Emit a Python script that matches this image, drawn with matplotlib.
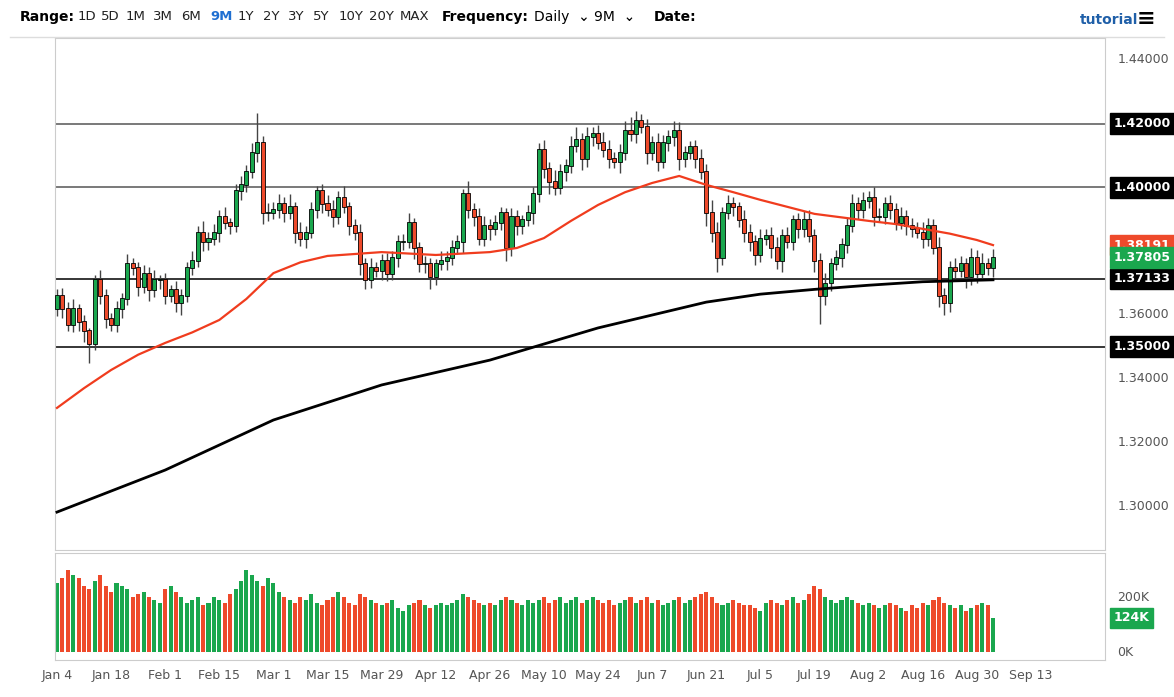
import matplotlib.pyplot as plt
import numpy as np
import pandas as pd

# daily closes, Jan 4 - Sep 2 2021 (business days)
closes = [
    1.366, 1.362, 1.357, 1.362, 1.358, 1.355, 1.351, 1.371, 1.366, 1.359, 1.357, 1.362, 1.365, 1.376, 1.375, 1.369, 1.373, 1.368, 1.371, 1.371,
    1.366, 1.368, 1.364, 1.366, 1.375, 1.377, 1.386, 1.383, 1.384, 1.386, 1.391, 1.389, 1.388, 1.399, 1.401, 1.405, 1.411, 1.414, 1.392, 1.392,
    1.393, 1.395, 1.392, 1.394, 1.386, 1.384, 1.386, 1.393, 1.399, 1.395, 1.393, 1.391, 1.397, 1.394, 1.388, 1.386, 1.376, 1.371, 1.375, 1.374, 1.377, 1.373, 1.378,
    1.383, 1.383, 1.389, 1.381, 1.376, 1.376, 1.372, 1.376, 1.377, 1.378, 1.381, 1.383, 1.398, 1.393, 1.391, 1.384, 1.388, 1.387, 1.389, 1.392, 1.381, 1.391,
    1.388, 1.390, 1.392, 1.398, 1.412, 1.406, 1.402, 1.400, 1.405, 1.407, 1.413, 1.415, 1.409, 1.416, 1.417, 1.414, 1.412, 1.409, 1.408, 1.411, 1.418,
    1.417, 1.421, 1.419, 1.411, 1.414, 1.408, 1.414, 1.416, 1.418, 1.409, 1.411, 1.413, 1.409, 1.405, 1.392, 1.386, 1.378, 1.392, 1.395, 1.394, 1.390, 1.386,
    1.383, 1.379, 1.384, 1.385, 1.381, 1.377, 1.385, 1.383, 1.390, 1.387, 1.390, 1.385, 1.377, 1.366, 1.370, 1.376, 1.378, 1.382, 1.388, 1.395, 1.393, 1.396,
    1.397, 1.391, 1.391, 1.395, 1.393, 1.389, 1.391, 1.388, 1.387, 1.386, 1.384, 1.388, 1.381, 1.366, 1.364, 1.375, 1.374, 1.376, 1.372, 1.378, 1.373, 1.376,
    1.375, 1.37805,
]
first_open = 1.362
upper_pips = [
    20, 25, 20, 30, 15, 20, 10, 15, 30, 20, 15, 25, 20, 30, 20, 15, 25, 20, 30, 15,
    20, 15, 25, 20, 15, 30, 20, 35, 20, 25, 20, 30, 15, 20, 25, 20, 30, 95, 20, 30,
    25, 30, 20, 40, 15, 30, 20, 25, 15, 20, 25, 30, 20, 35, 15, 20, 25, 20, 30, 15, 20, 25, 20,
    20, 25, 30, 15, 20, 25, 20, 15, 30, 20, 25, 20, 15, 40, 20, 25, 30, 20, 25, 20, 15, 25,
    20, 15, 25, 20, 20, 30, 20, 35, 25, 20, 30, 40, 20, 30, 20, 25, 35, 30, 20, 25, 30,
    40, 30, 20, 25, 20, 30, 25, 20, 30, 25, 20, 15, 20, 30, 25, 40, 30, 20, 25, 20, 15, 30,
    25, 20, 30, 20, 25, 35, 20, 25, 15, 20, 25, 30, 20, 25, 30, 20, 25, 20, 25, 30, 20, 25,
    20, 30, 25, 20, 25, 20, 30, 20, 25, 20, 30, 25, 20, 35, 25, 20, 30, 25, 20, 30, 25, 35,
    20, 25,
]
lower_pips = [
    25, 30, 20, 25, 30, 35, 60, 20, 25, 30, 20, 25, 30, 20, 25, 30, 20, 35, 25, 30,
    25, 20, 30, 40, 20, 25, 20, 30, 25, 20, 30, 20, 25, 20, 30, 25, 20, 30, 35, 25,
    20, 25, 30, 20, 35, 25, 30, 20, 25, 30, 20, 35, 25, 20, 30, 25, 35, 30, 25, 20, 30, 25, 20,
    30, 25, 20, 35, 25, 30, 40, 25, 20, 30, 25, 20, 35, 25, 30, 20, 25, 35, 20, 25, 40, 25,
    30, 25, 20, 35, 25, 30, 40, 25, 20, 30, 25, 20, 35, 25, 30, 20, 25, 30, 20, 35, 25,
    25, 30, 20, 35, 25, 30, 20, 25, 30, 35, 25, 20, 30, 25, 40, 30, 45, 25, 20, 30, 25, 30,
    30, 35, 25, 20, 30, 25, 35, 20, 25, 30, 25, 20, 35, 90, 30, 25, 20, 30, 25, 20, 30, 25,
    25, 30, 20, 25, 30, 25, 20, 30, 25, 20, 30, 25, 20, 35, 40, 30, 25, 20, 35, 25, 30, 20,
    25, 30,
]
volumes_k = [
    250, 270, 300, 280, 270, 240, 230, 260, 280, 240, 220, 250, 240, 230, 200, 210, 220, 200, 190, 180,
    230, 240, 220, 200, 180, 190, 200, 170, 180, 200, 190, 180, 210, 230, 260, 300, 280, 260, 240, 270,
    250, 220, 200, 190, 180, 200, 190, 210, 180, 170, 190, 200, 220, 200, 180, 170, 210, 200, 190, 180, 170, 180, 190,
    160, 150, 170, 180, 190, 170, 160, 170, 180, 170, 180, 190, 210, 200, 190, 180, 170, 180, 170, 190, 200, 190,
    180, 170, 190, 180, 190, 200, 180, 190, 200, 180, 190, 200, 180, 190, 200, 190, 180, 190, 170, 180, 190,
    200, 180, 190, 200, 180, 190, 170, 180, 190, 200, 180, 190, 200, 210, 220, 200, 180, 170, 180, 190, 180, 170,
    170, 160, 150, 180, 190, 180, 170, 190, 200, 180, 190, 210, 240, 230, 200, 190, 180, 190, 200, 190, 180, 170,
    180, 170, 160, 170, 180, 170, 160, 150, 170, 160, 180, 170, 190, 200, 180, 170, 160, 170, 150, 160, 170, 180,
    170, 124,
]

# moving averages read at sample dates
ma50_dates = ["2021-01-04", "2021-01-11", "2021-01-18", "2021-01-25", "2021-02-01", "2021-02-08", "2021-02-15",
              "2021-02-22", "2021-03-01", "2021-03-08", "2021-03-15", "2021-03-29", "2021-04-12", "2021-04-26",
              "2021-05-03", "2021-05-10", "2021-05-17", "2021-05-24", "2021-05-31", "2021-06-07", "2021-06-14",
              "2021-06-21", "2021-06-28", "2021-07-05", "2021-07-19", "2021-08-02", "2021-08-09", "2021-08-16",
              "2021-08-23", "2021-08-30", "2021-09-02"]
ma50_vals = [1.3308, 1.3370, 1.3427, 1.3475, 1.3512, 1.3545, 1.3584, 1.3650, 1.3731, 1.3765, 1.3785, 1.3797,
             1.3788, 1.3797, 1.3810, 1.3841, 1.3895, 1.3945, 1.3985, 1.4014, 1.4036, 1.4008, 1.3985, 1.3961,
             1.3917, 1.3895, 1.3885, 1.3870, 1.3855, 1.3835, 1.3819]
ma200_dates = ["2021-01-04", "2021-02-01", "2021-03-01", "2021-03-29", "2021-04-26", "2021-05-24",
               "2021-06-21", "2021-07-05", "2021-07-19", "2021-08-02", "2021-08-16", "2021-09-02"]
ma200_vals = [1.2981, 1.3113, 1.3270, 1.3380, 1.3458, 1.3559, 1.3640, 1.3665, 1.3680, 1.3693, 1.3704, 1.3710]

levels = [1.42, 1.40, 1.37133, 1.35]
price_ticks = [1.44, 1.36, 1.34, 1.32, 1.30]
date_ticks = ["2021-01-04", "2021-01-18", "2021-02-01", "2021-02-15", "2021-03-01", "2021-03-15", "2021-03-29",
              "2021-04-12", "2021-04-26", "2021-05-10", "2021-05-24", "2021-06-07", "2021-06-21", "2021-07-05",
              "2021-07-19", "2021-08-02", "2021-08-16", "2021-08-30", "2021-09-13"]
date_labels = ["Jan 4", "Jan 18", "Feb 1", "Feb 15", "Mar 1", "Mar 15", "Mar 29", "Apr 12", "Apr 26", "May 10",
               "May 24", "Jun 7", "Jun 21", "Jul 5", "Jul 19", "Aug 2", "Aug 16", "Aug 30", "Sep 13"]

GREEN = "#1aa74e"
RED = "#ee4a2b"

# x axis is the trading-day index
bdays = pd.bdate_range("2021-01-04", "2021-12-31")
def xpos(d):
    return bdays.get_loc(pd.Timestamp(d))

idx = np.arange(len(closes))
c = np.array(closes)
o = np.concatenate([[first_open], c[:-1]])
top = np.maximum(o, c)
bot = np.minimum(o, c)
hi = top + np.array(upper_pips) * 1e-4
lo = bot - np.array(lower_pips) * 1e-4
cols = np.where(c >= o, GREEN, RED)

W, H = 1174, 697
fig = plt.figure(figsize=(W / 100, H / 100), dpi=100)
ax = fig.add_axes([55 / W, 1 - 550 / H, 1050 / W, 512 / H])
axv = fig.add_axes([55 / W, 1 - 660 / H, 1050 / W, 107 / H])

for a in (ax, axv):
    a.set_xlim(-0.37, 193.7)
    for s in a.spines.values():
        s.set_color("#cccccc")
    a.tick_params(length=0, labelleft=False, labelbottom=False)
    a.set_yticks([])

ax.set_ylim(1.2862, 1.4469)
for lv in levels:
    ax.axhline(lv, color="#555555" if lv >= 1.40 else "black", lw=1.1, zorder=1)

ax.vlines(idx, lo, hi, color="#444444", lw=1, zorder=2)
ax.bar(idx, top - bot + 0.0003, bottom=bot - 0.00015, width=0.75, color=cols,
       edgecolor="black", linewidth=0.6, zorder=3)

ax.plot([xpos(d) for d in ma50_dates], ma50_vals, color="#f03c1e", lw=1.6, zorder=4)
ax.plot([xpos(d) for d in ma200_dates], ma200_vals, color="black", lw=2, zorder=4)

# right-hand price labels
tr = ax.get_yaxis_transform()
for p in price_ticks:
    ax.text(1.012, p, f"{p:.5f}", transform=tr, va="center", ha="left", fontsize=9, color="#555555")
boxes = [(1.42, "1.42000", "black"), (1.40, "1.40000", "black"), (1.37133, "1.37133", "black"),
         (1.35, "1.35000", "black"), (1.38191, "1.38191", RED), (1.37805, "1.37805", GREEN)]
for p, t, col in boxes:
    ax.text(1.008, p, t, transform=tr, va="center", ha="left", fontsize=9, color="white", fontweight="bold",
            bbox=dict(boxstyle="square,pad=0.3", fc=col, ec=col))

# volume
axv.set_ylim(-29, 360)
axv.bar(idx, volumes_k, width=0.75, color=cols, linewidth=0)
trv = axv.get_yaxis_transform()
axv.text(1.012, 200, "200K", transform=trv, va="center", fontsize=9, color="#555555")
axv.text(1.012, 0, "0K", transform=trv, va="center", fontsize=9, color="#555555")
axv.text(1.008, 124, "124K", transform=trv, va="center", fontsize=9, color="white", fontweight="bold",
         bbox=dict(boxstyle="square,pad=0.3", fc=GREEN, ec=GREEN))

for d, lab in zip(date_ticks, date_labels):
    axv.text(xpos(d), -0.08, lab, transform=axv.get_xaxis_transform(), ha="center", va="top",
             fontsize=9, color="#555555", clip_on=False)

# toolbar
fig.text(20 / W, 1 - 17 / H, "Range:", fontsize=10, fontweight="bold", va="center")
rng = ["1D", "5D", "1M", "3M", "6M", "9M", "1Y", "2Y", "3Y", "5Y", "10Y", "20Y", "MAX"]
rx = [78, 101, 126, 153, 181, 210, 238, 263, 288, 313, 339, 369, 400]
for t, xx in zip(rng, rx):
    fig.text(xx / W, 1 - 17 / H, t, fontsize=9.5, va="center",
             color="#1f6fd1" if t == "9M" else "#222222", fontweight="bold" if t == "9M" else "normal")
fig.text(442 / W, 1 - 17 / H, "Frequency:", fontsize=10, fontweight="bold", va="center")
fig.text(534 / W, 1 - 17 / H, "Daily  \u2304", fontsize=10, va="center")
fig.text(594 / W, 1 - 17 / H, "9M  \u2304", fontsize=10, va="center")
fig.text(654 / W, 1 - 17 / H, "Date:", fontsize=10, fontweight="bold", va="center")
fig.text(1080 / W, 1 - 20 / H, "tutorial", fontsize=10, fontweight="bold", color="#1f5fa8", va="center")
fig.text(1137 / W, 1 - 19 / H, "\u2261", fontsize=16, fontweight="bold", va="center")
fig.add_artist(plt.Line2D([10 / W, 1164 / W], [1 - 37 / H, 1 - 37 / H], color="#dddddd", lw=1))

fig.savefig("out.png", dpi=100, facecolor="white")
